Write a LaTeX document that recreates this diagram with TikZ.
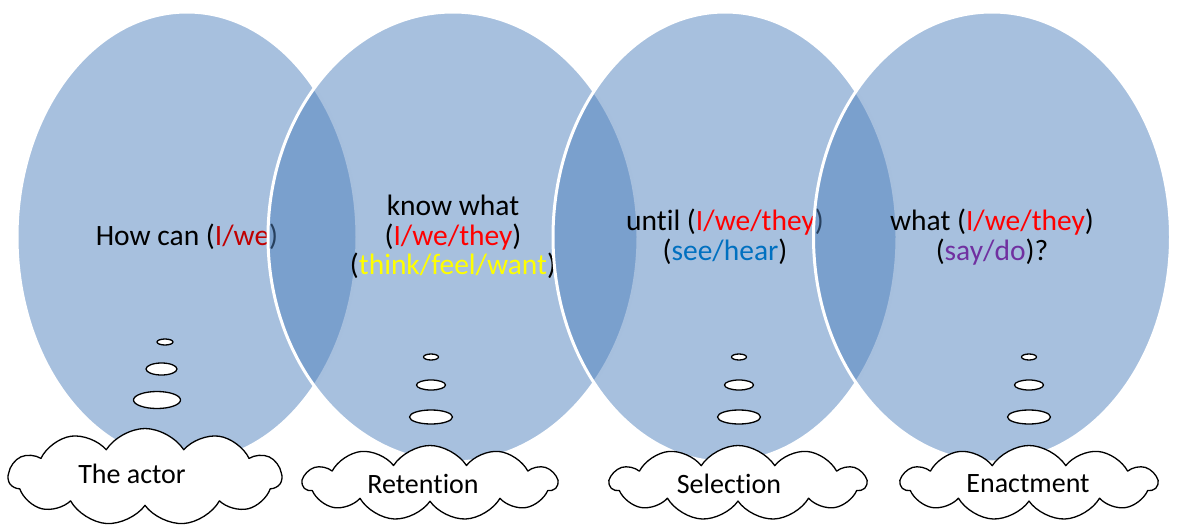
\documentclass[tikz,border=0pt]{standalone}
\usepackage{fontspec}
\setmainfont{Carlito}[Ligatures=NoCommon]
\usetikzlibrary{shapes.geometric,shapes.symbols}
\definecolor{petalblue}{RGB}{79,129,189}
\definecolor{darkred}{RGB}{192,0,0}
\definecolor{hearblue}{RGB}{0,112,192}
\definecolor{dopurple}{RGB}{112,48,160}
\definecolor{feelyellow}{RGB}{255,255,0}

\begin{document}
\begin{tikzpicture}[line cap=round,line join=round,x=1pt,y=-1pt,
    petal/.style={ellipse,fill=petalblue,fill opacity=0.5,text opacity=1,draw=white,
      line width=3pt,inner sep=0pt,align=center,font=\fontsize{29.5}{29.5}\selectfont},
    puff/.style={cloud,cloud puffs=11,cloud puff arc=115,draw=black,fill=white,
      line width=1.3pt,inner sep=0pt},
    puffText/.style={font=\fontsize{28}{30}\selectfont},
    bubble/.style={ellipse,draw=black,fill=white,line width=1.3pt,inner sep=0pt}]
  \useasboundingbox (0,0) rectangle (1178,527);
  % the four stages
  \node[petal,minimum width=340pt,minimum height=450pt] (actor) at (187,237)
    {How can (\textcolor{darkred}{I/we})};
  \node[petal,minimum width=370pt,minimum height=450pt] (retention) at (453,237)
    {know what\\(\textcolor{red}{I/we/they})\\(\textcolor{feelyellow}{think/feel/want})};
  \node[petal,minimum width=344pt,minimum height=450pt] (selection) at (725,237)
    {until (\textcolor{red}{I/we/they})\\(\textcolor{hearblue}{see/hear})};
  \node[petal,minimum width=357pt,minimum height=450pt] (enactment) at (992,237)
    {what (\textcolor{red}{I/we/they})\\(\textcolor{dopurple}{say/do})?};
  % thought bubbles
  \node[bubble,minimum width=16pt,minimum height=6pt] (b11) at (165,342) {};
  \node[bubble,minimum width=31pt,minimum height=12pt] (b12) at (161.5,369) {};
  \node[bubble,minimum width=47pt,minimum height=17pt] (b13) at (157,400) {};
  \foreach \c/\x in {2/431,3/739,4/1029}
  {
    \node[bubble,minimum width=15pt,minimum height=6pt] (b\c1) at (\x,357) {};
    \node[bubble,minimum width=29pt,minimum height=10pt] (b\c2) at (\x,385) {};
    \node[bubble,minimum width=43pt,minimum height=14pt] (b\c3) at (\x,417) {};
  }
  % clouds
  \node[puff,minimum width=273pt,minimum height=97pt] (c1) at (145,477) {};
  \node[puff,minimum width=254pt,minimum height=75pt] (c2) at (430,483) {};
  \node[puff,minimum width=256pt,minimum height=75pt] (c3) at (738,483) {};
  \node[puff,minimum width=256pt,minimum height=75pt] (c4) at (1029,483) {};
  \node[puffText] (l1) at (132,474) {The actor};
  \node[puffText] (l2) at (423,484) {Retention};
  \node[puffText] (l3) at (729,484) {Selection};
  \node[puffText] (l4) at (1028,484) {Enactment};
\end{tikzpicture}
\end{document}
